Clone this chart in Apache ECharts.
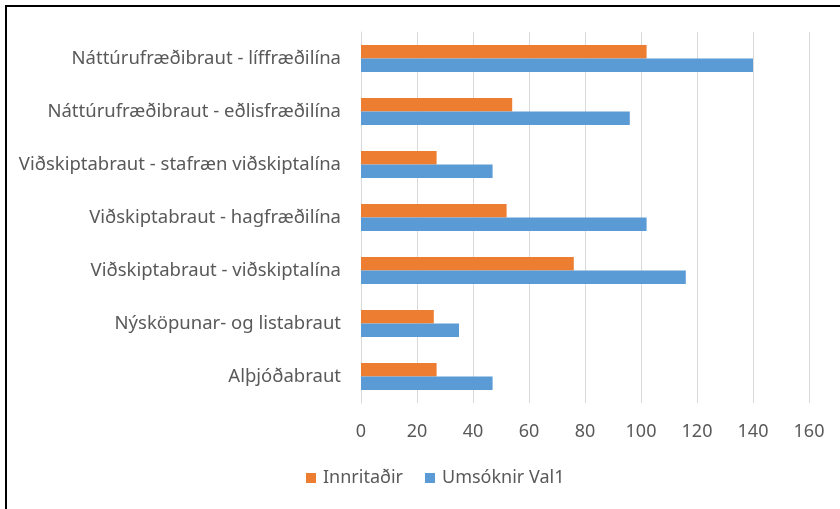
<!DOCTYPE html>
<html>
<head>
<meta charset="utf-8">
<script src="https://cdn.jsdelivr.net/npm/echarts@6/dist/echarts.min.js"></script>
<style>
  html, body { margin: 0; padding: 0; background: #fff; }
  #chart { width: 840px; height: 509px; }
</style>
</head>
<body>
<div id="chart"></div>
<script>
// brautir, neðst upp (category axis runs bottom -> top)
const categories = [
  'Alþjóðabraut',
  'Nýsköpunar- og listabraut',
  'Viðskiptabraut - viðskiptalína',
  'Viðskiptabraut - hagfræðilína',
  'Viðskiptabraut - stafræn viðskiptalína',
  'Náttúrufræðibraut - eðlisfræðilína',
  'Náttúrufræðibraut - líffræðilína'
];
const innritadir = [27, 26, 76, 52, 27, 54, 102];
const umsoknir = [47, 35, 116, 102, 47, 96, 140];
const xTicks = [0, 20, 40, 60, 80, 100, 120, 140, 160];

const textGrey = '#595959';
const font = 'Noto Sans';

const myChart = echarts.init(document.getElementById('chart'));

const option = {
  backgroundColor: '#fff',
  animation: false,
  grid: {
    left: 361,
    right: 31,
    top: 32,
    bottom: 106,
    containLabel: false
  },
  legend: {
    data: ['Innritaðir', 'Umsóknir Val1'],
    bottom: 17,
    left: 301,
    itemWidth: 10,
    itemHeight: 10,
    itemGap: 22,
    icon: 'rect',
    textStyle: { color: textGrey, fontSize: 18, fontFamily: font, padding: [0, 0, 0, 2] }
  },
  xAxis: {
    type: 'value',
    min: xTicks[0],
    max: xTicks[xTicks.length - 1],
    interval: 20,
    axisLine: { show: false },
    axisTick: { show: false },
    axisLabel: { color: textGrey, fontSize: 18, fontFamily: font, margin: 20 },
    splitLine: { show: true, lineStyle: { color: '#d9d9d9', width: 1 } }
  },
  yAxis: {
    type: 'category',
    data: categories,
    axisLine: { show: true, lineStyle: { color: '#d9d9d9' } },
    axisTick: { show: false },
    axisLabel: { color: textGrey, fontSize: 18.5, fontFamily: font, margin: 20 }
  },
  series: [
    {
      name: 'Innritaðir',
      type: 'bar',
      data: innritadir,
      barWidth: 13.5,
      barGap: '0%',
      itemStyle: { color: '#ed7d31' }
    },
    {
      name: 'Umsóknir Val1',
      type: 'bar',
      data: umsoknir,
      barWidth: 13.5,
      barGap: '0%',
      itemStyle: { color: '#5b9bd5' }
    }
  ],
  graphic: [
    {
      type: 'rect',
      shape: { x: 6, y: 6, width: 1000, height: 1000 },
      style: { fill: 'none', stroke: '#000', lineWidth: 2 },
      silent: true
    }
  ]
};

myChart.setOption(option);
</script>
</body>
</html>
